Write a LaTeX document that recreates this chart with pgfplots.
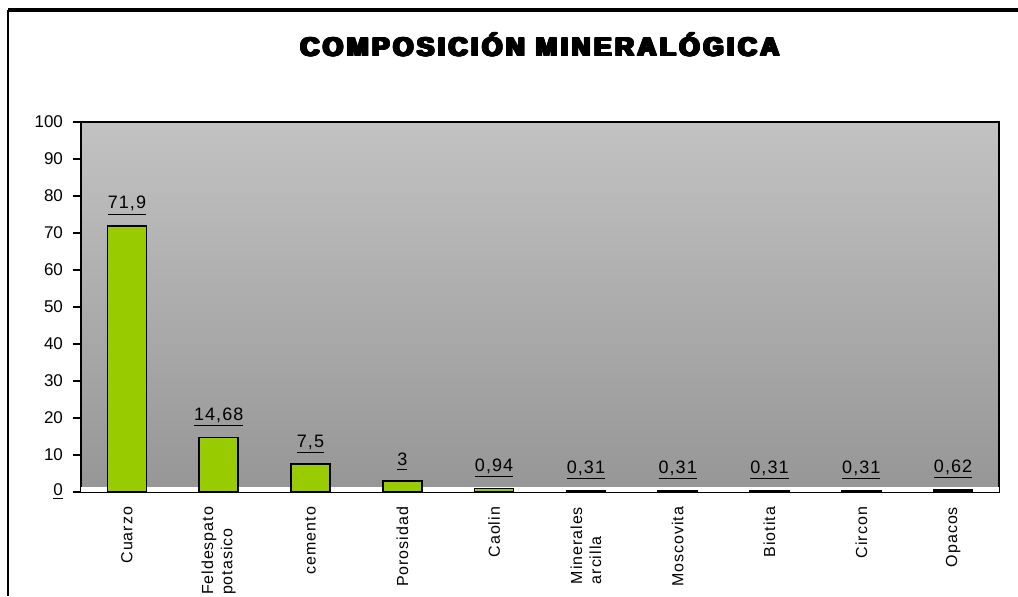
\documentclass[border=0pt]{standalone}
\usepackage{fontspec}
\usepackage{pgfplots}
\usepackage{pgfplotstable}
\pgfplotsset{compat=1.18}
\setmainfont{Liberation Sans}
\newfontfamily\spaced[LetterSpace=6]{Liberation Sans}
\newfontfamily\labfont[LetterSpace=6]{Liberation Sans}
\newfontfamily\titlefont[LetterSpace=14]{Liberation Sans}
\definecolor{bargreen}{RGB}{153,204,0}
\definecolor{bgtop}{RGB}{194,194,194}
\definecolor{bgbot}{RGB}{150,150,150}

\pgfplotstableread{
x y lab
1 71.9 71,9
2 14.68 14,68
3 7.5 7,5
4 3 3
5 0.94 0,94
6 0.31 0,31
7 0.31 0,31
8 0.31 0,31
9 0.31 0,31
10 0.62 0,62
}\mineral

\begin{document}
\begin{tikzpicture}
  \useasboundingbox (0,0) rectangle (509pt,298pt);
  % outer frame (top and left edges only visible)
  \draw[line width=2pt] (4pt,293pt) -- (509pt,293pt);
  \draw[line width=1.3pt] (4pt,293pt) -- (4pt,0pt);
  % heavy title: bold text overprinted with small offsets
  \foreach \dx in {-0.7,-0.35,0,0.35,0.7}
    \foreach \dy in {-0.25,0,0.25}
      \node[font=\titlefont\bfseries\fontsize{13}{15}\selectfont] at (270pt+\dx pt,275.5pt+\dy pt) {COMPOSICIÓN MINERALÓGICA};
  \begin{axis}[
    at={(40.5pt,52pt)}, anchor=south west,
    scale only axis, width=459pt, height=185pt,
    xmin=0.5, xmax=10.5, ymin=0, ymax=100,
    axis line style={line width=0.8pt},
    axis background/.style={shade, top color=bgtop, bottom color=bgbot},
    ytick={0,10,...,100},
    yticklabels={\underline{0},10,20,30,40,50,60,70,80,90,100},
    xtick={1,...,10},
    xticklabels={Cuarzo,{Feldespato\\potasico},cemento,Porosidad,Caolin,{Minerales\\arcilla},Moscovita,Biotita,Circon,Opacos},
    minor xtick={0.5,1.5,...,10.5},
    xtick style={draw=none},
    minor x tick style={line width=0.6pt, black},
    ytick style={line width=0.6pt, black},
    tick align=outside, tick pos=left,
    major tick length=4pt, minor tick length=4pt,
    yticklabel style={font=\fontsize{8.5}{10}\selectfont, xshift=-1.5pt},
    xticklabel style={font=\spaced\fontsize{8}{9.6}\selectfont, rotate=90, anchor=east, align=left},
    /pgf/number format/assume math mode=true,
    clip=false,
  ]
    \fill[white] (axis cs:0.5,0) rectangle (axis cs:10.5,1.3);
    \addplot[ybar, bar width=19.5pt, fill=bargreen, draw=black, line width=0.8pt,
      point meta=explicit symbolic,
      nodes near coords={\underline{\pgfplotspointmeta}},
      every node near coord/.append style={font=\labfont\fontsize{9}{10.8}\selectfont, anchor=south, inner sep=1pt, yshift=4pt, black}]
      table[x=x, y=y, meta=lab] {\mineral};
  \end{axis}
\end{tikzpicture}
\end{document}
